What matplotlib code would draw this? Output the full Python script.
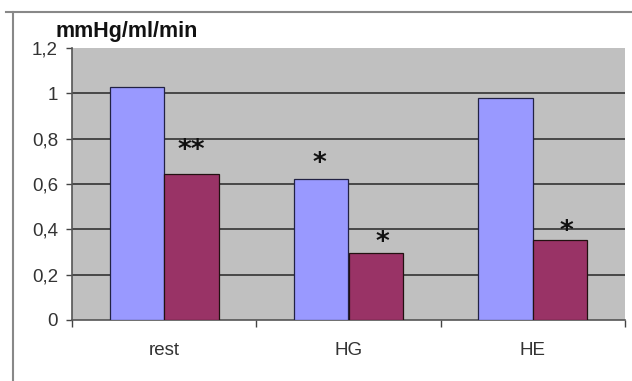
import numpy as np
import matplotlib
matplotlib.use("Agg")
import matplotlib.pyplot as plt
from matplotlib.lines import Line2D

categories = ["rest", "HG", "HE"]
series_a = [1.03, 0.62, 0.98]     # blue bars
series_b = [0.645, 0.296, 0.355]  # red bars
y_ticks = [0, 0.2, 0.4, 0.6, 0.8, 1.0, 1.2]
y_labels = ["0", "0,2", "0,4", "0,6", "0,8", "1", "1,2"]
unit = "mmHg/ml/min"

# significance marks: (category index, series, text, height)
marks = [(0, 1, "**", 0.745), (1, 0, "*", 0.69), (1, 1, "*", 0.34), (2, 1, "*", 0.39)]

plt.rcParams['font.family'] = ['Liberation Sans', 'DejaVu Sans']

fig = plt.figure(figsize=(6.32, 3.81), dpi=100)
ax = fig.add_axes([72/632, 1-320/381, 553/632, 272/381])
ax.set_facecolor("#c0c0c0")

x = np.arange(len(categories))
w = 0.296
ax.bar(x - w/2, series_a, w, color="#9999ff", edgecolor="#222244", linewidth=0.9, zorder=3)
ax.bar(x + w/2, series_b, w, color="#993366", edgecolor="#221111", linewidth=0.9, zorder=3)

for i, s, txt, h in marks:
    xs = x[i] + (w/2 if s == 1 else -w/2) + (0.035 if (s == 1 and i > 0) else -0.01 if s == 0 else 0)
    ax.text(xs, h, txt, ha="center", va="center", fontsize=19, fontweight="bold",
            family="DejaVu Sans", color="#111111", zorder=4)

ax.set_xlim(-0.5, 2.5)
ax.set_ylim(0, 1.2)
ax.set_yticks(y_ticks)
ax.set_yticklabels(y_labels, fontsize=13.5, color="#333333")
ax.tick_params(axis="y", length=4, width=1, color="#444444", pad=6)
ax.set_xticks(x)
ax.set_xticklabels(categories, fontsize=13.5, color="#333333")
ax.tick_params(axis="x", which="major", length=0, pad=16)
ax.set_xticks([-0.5, 0.5, 1.5, 2.5], minor=True)
ax.tick_params(axis="x", which="minor", length=5, width=1, color="#444444", direction="out")

for yv in y_ticks[1:-1]:
    ax.axhline(yv, color="#333333", linewidth=1.2, zorder=1)

for side in ["top", "right"]:
    ax.spines[side].set_visible(False)
ax.spines["left"].set_color("#555555")
ax.spines["bottom"].set_color("#555555")
ax.spines["left"].set_linewidth(1.2)
ax.spines["bottom"].set_linewidth(1.2)

fig.text(55/632, 1-32/381, unit, ha="left", va="center", fontsize=15.5, fontweight="bold", color="#111111")

# outer chart frame (partly cropped)
fig.add_artist(Line2D([6/632, 1], [1-12/381, 1-12/381], color="#888888", linewidth=1.5, transform=fig.transFigure))
fig.add_artist(Line2D([13/632, 13/632], [0, 1-12/381], color="#888888", linewidth=1.5, transform=fig.transFigure))

fig.savefig("out.png", dpi=100)
